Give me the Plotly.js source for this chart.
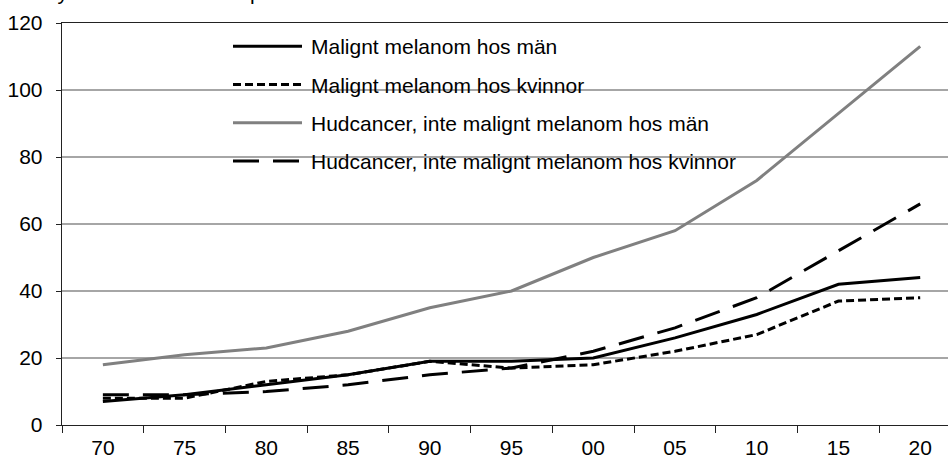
<!DOCTYPE html>
<html>
<head>
<meta charset="utf-8">
<script src="https://cdn.plot.ly/plotly-3.0.1.min.js"></script>
<style>
  html, body { margin: 0; padding: 0; background: #fff; }
  #chart { width: 948px; height: 457px; }
</style>
</head>
<body>
<div id="chart"></div>
<script>
// ---- Data ----
const years = ['70','75','80','85','90','95','00','05','10','15','20'];
const melanomMan     = [7, 9, 12, 15, 19, 19, 20, 26, 33, 42, 44];
const melanomKvinnor = [8, 8, 13, 15, 19, 17, 18, 22, 27, 37, 38];
const hudMan         = [18, 21, 23, 28, 35, 40, 50, 58, 73, 93, 113];
const hudKvinnor     = [9, 9, 10, 12, 15, 17, 22, 29, 38, 52, 66];

const seriesNames = [
  'Malignt melanom hos män',
  'Malignt melanom hos kvinnor',
  'Hudcancer, inte malignt melanom hos män',
  'Hudcancer, inte malignt melanom hos kvinnor'
];
const topText = 'Antal nya fall av hudcancer per 100 000 invånare';
const yTicks = [0, 20, 40, 60, 80, 100, 120];

const FONT = 'Liberation Sans, Arial, sans-serif';

function tr(y, name, color, dash, grp, rank) {
  return {
    type: 'scatter', mode: 'lines', x: years, y: y, name: name,
    legendgroup: grp, legendrank: rank,
    line: { color: color, width: 3, dash: dash },
    hoverinfo: 'skip'
  };
}

const data = [
  tr(hudMan, seriesNames[2], '#808080', 'solid', 'c', 3),
  tr(hudKvinnor, seriesNames[3], '#000000', '26px,14px', 'd', 4),
  tr(melanomKvinnor, seriesNames[1], '#000000', '8px,4px', 'b', 2),
  tr(melanomMan, seriesNames[0], '#000000', 'solid', 'a', 1)
];

const layout = {
  width: 948, height: 457,
  margin: { l: 62, r: 0, t: 23, b: 32, pad: 0 },
  paper_bgcolor: '#ffffff', plot_bgcolor: '#ffffff',
  font: { family: FONT, size: 21, color: '#000' },
  showlegend: true,
  legend: {
    x: (228 - 62) / 886, xanchor: 'left',
    y: (425 - 26) / 402, yanchor: 'top',
    bgcolor: 'rgba(0,0,0,0)', borderwidth: 0,
    font: { family: FONT, size: 21, color: '#000' },
    traceorder: 'grouped', tracegroupgap: 8,
    itemwidth: 73
  },
  xaxis: {
    type: 'category',
    range: [-0.5, 10.34],
    tickson: 'boundaries',
    ticks: 'outside', ticklen: 7, tickcolor: '#222', tickwidth: 1,
    showline: true, linecolor: '#222', linewidth: 1.3, mirror: true,
    showgrid: false, zeroline: false,
    tickfont: { family: FONT, size: 21, color: '#000' },
    ticklabelstandoff: 3,
    fixedrange: true
  },
  yaxis: {
    range: [0, 120],
    tickvals: yTicks,
    ticks: 'outside', ticklen: 5, tickcolor: '#222', tickwidth: 1,
    showline: true, linecolor: '#222', linewidth: 1.3,
    showgrid: true, gridcolor: '#a6a6a6', gridwidth: 1.2,
    zeroline: false,
    tickfont: { family: FONT, size: 21, color: '#000' },
    ticklabelstandoff: 9,
    fixedrange: true
  },
  annotations: [{
    text: topText, xref: 'paper', yref: 'paper',
    x: (-10 - 62) / 886, xanchor: 'left',
    y: 1, yanchor: 'bottom', yshift: 17,
    showarrow: false,
    font: { family: FONT, size: 21, color: '#000' }
  }]
};

function fixLegend(gd) {
  gd.querySelectorAll('.legend .legendlines path').forEach(function (p) {
    p.setAttribute('d', 'M5,0h69');
  });
}

Plotly.newPlot('chart', data, layout, { displayModeBar: false, staticPlot: true })
  .then(function (gd) {
    fixLegend(gd);
    gd.on('plotly_afterplot', function () { fixLegend(gd); });
  });
</script>
</body>
</html>
